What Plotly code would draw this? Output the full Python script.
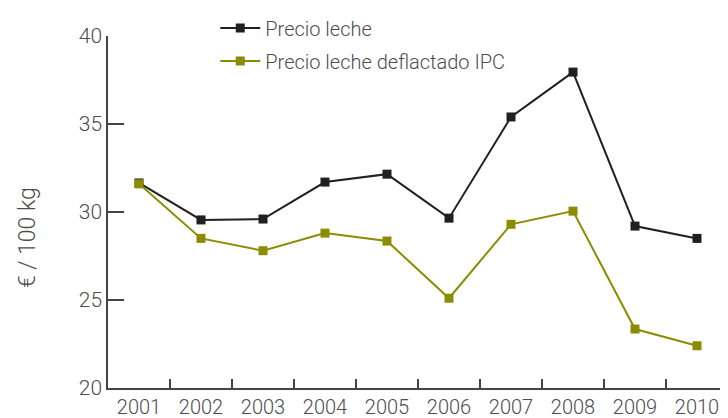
import plotly.graph_objects as go

years = ["2001", "2002", "2003", "2004", "2005", "2006", "2007", "2008", "2009", "2010"]
precio_leche = [31.65, 29.55, 29.6, 31.7, 32.15, 29.65, 35.4, 37.95, 29.2, 28.5]
precio_deflactado = [31.6, 28.5, 27.8, 28.8, 28.35, 25.1, 29.3, 30.05, 23.35, 22.4]
y_ticks = [20, 25, 30, 35, 40]

BLACK = "#231f20"
OLIVE = "#8c8c00"
TXT = "#4d4d4d"
FONT = "Roboto"

fig = go.Figure()
fig.add_trace(go.Scatter(
    x=years, y=precio_leche, name="Precio leche", mode="lines+markers",
    line=dict(color=BLACK, width=2), marker=dict(symbol="square", size=9, color=BLACK),
    legendgroup="a"))
fig.add_trace(go.Scatter(
    x=years, y=precio_deflactado, name="Precio leche deflactado IPC", mode="lines+markers",
    line=dict(color=OLIVE, width=2), marker=dict(symbol="square", size=9, color=OLIVE),
    legendgroup="b"))

# page body has an 8px margin; plot area target: x 108..728, y 36..388
fig.update_layout(
    width=720, height=410,
    margin=dict(l=100, r=0, t=28, b=30),
    paper_bgcolor="white", plot_bgcolor="white",
    font=dict(family=FONT, size=20, color=TXT, weight=300),
    showlegend=True,
    legend=dict(x=0.173, y=1.078, xanchor="left", yanchor="top",
                bgcolor="rgba(0,0,0,0)", font=dict(size=20, color=TXT, family=FONT, weight=300),
                tracegroupgap=4, itemwidth=40),
    xaxis=dict(type="category", range=[-0.5, 9.5], tickson="boundaries",
               ticks="inside", ticklen=9, tickwidth=1.5, tickcolor="#444",
               showline=True, linecolor="#444", linewidth=1.5,
               showgrid=False, zeroline=False,
               tickfont=dict(size=20, color=TXT, family=FONT, weight=300)),
    yaxis=dict(range=[20, 40], tickvals=y_ticks, ticks="inside", ticklen=16,
               tickwidth=1.5, tickcolor="#444",
               showline=True, linecolor="#444", linewidth=1.5,
               showgrid=False, zeroline=False,
               tickfont=dict(size=21, color=TXT, family=FONT, weight=300)),
    annotations=[dict(text="€ / 100 kg", xref="paper", yref="paper",
                      x=(27 - 108) / 620, y=(388 - 238) / 352, textangle=-90,
                      showarrow=False, xanchor="center", yanchor="middle",
                      font=dict(size=23, color=TXT, family=FONT, weight=300))],
)

fig.write_html("out.html")
